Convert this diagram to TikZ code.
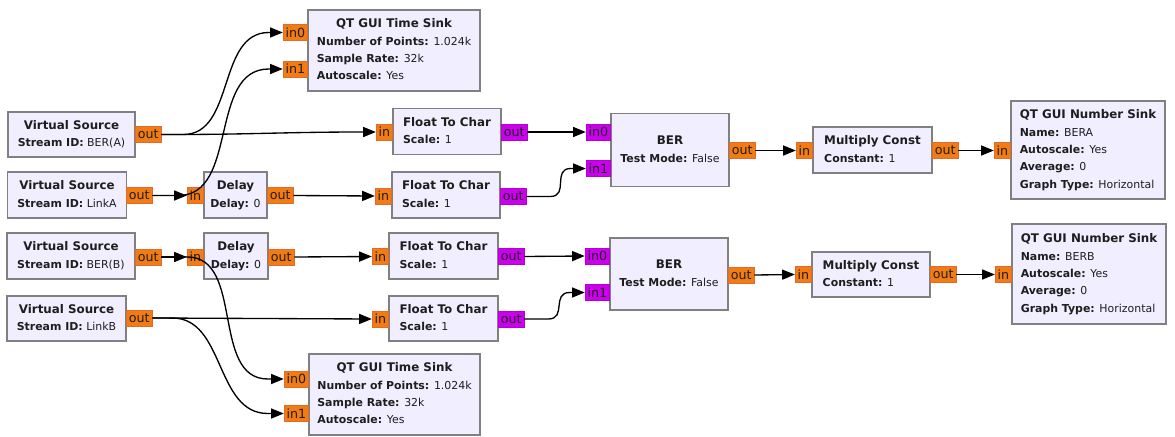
\documentclass[tikz,border=0pt]{standalone}
\usepackage{fontspec}
\setmainfont{DejaVu Sans}
\usetikzlibrary{arrows.meta,calc}
\definecolor{blockfill}{HTML}{F1EEFF}
\definecolor{blockline}{HTML}{808080}
\definecolor{floatport}{HTML}{F27C12}
\definecolor{floatline}{HTML}{E06A30}
\definecolor{byteport}{HTML}{CC00EE}
\definecolor{byteline}{HTML}{B400D0}
\definecolor{textgray}{HTML}{1E1E1E}
\newcommand\ttl[1]{\multicolumn{1}{@{}c@{}}{\fontsize{8.9}{13}\selectfont\bfseries #1}}
\newcommand\prm[2]{\textbf{#1:} #2}

\begin{document}
\begin{tikzpicture}[x=0.75pt, y=-0.75pt, >={Triangle[length=9.5pt,width=7.5pt]},
  block/.style={draw=blockline, fill=blockfill, line width=1.1pt, inner sep=0pt,
    text=textgray, font=\fontsize{8.2}{13}\selectfont},
  port/.style={draw=floatline, fill=floatport, line width=0.6pt, inner xsep=1.8pt,
    inner ysep=0pt, minimum height=12pt, text=textgray, font=\fontsize{9.5}{9.5}\selectfont},
  inport/.style={port, anchor=east},
  outport/.style={port, anchor=west},
  byte/.style={draw=byteline, fill=byteport},
  wire/.style={->, line width=1pt, black}]
\useasboundingbox (0,0) rectangle (1175,436);

% link A: blocks
\node[block, minimum width=129pt, minimum height=60.75pt] (ts1) at (394,50.5)
  {\begin{tabular}{@{}l@{}}\ttl{QT GUI Time Sink}\\\prm{Number of Points}{1.024k}\\\prm{Sample Rate}{32k}\\\prm{Autoscale}{Yes}\end{tabular}};
\node[block, minimum width=95.25pt, minimum height=33.75pt] (vsa) at (71.5,134.5)
  {\begin{tabular}{@{}l@{}}\ttl{Virtual Source}\\\prm{Stream ID}{BER(A)}\end{tabular}};
\node[block, minimum width=89.25pt, minimum height=34.5pt] (vsla) at (67,195)
  {\begin{tabular}{@{}l@{}}\ttl{Virtual Source}\\\prm{Stream ID}{LinkA}\end{tabular}};
\node[block, minimum width=47.25pt, minimum height=34.5pt] (dla) at (235.5,195)
  {\begin{tabular}{@{}l@{}}\ttl{Delay}\\\prm{Delay}{0}\end{tabular}};
\node[block, minimum width=81pt, minimum height=34.5pt] (fta1) at (447,131.5)
  {\begin{tabular}{@{}l@{}}\ttl{Float To Char}\\\prm{Scale}{1}\end{tabular}};
\node[block, minimum width=81pt, minimum height=34.5pt] (fta2) at (446,195)
  {\begin{tabular}{@{}l@{}}\ttl{Float To Char}\\\prm{Scale}{1}\end{tabular}};
\node[block, minimum width=88.5pt, minimum height=54.75pt] (bera) at (670,150)
  {\begin{tabular}{@{}l@{}}\ttl{BER}\\\prm{Test Mode}{False}\end{tabular}};
\node[block, minimum width=89.25pt, minimum height=34.5pt] (mca) at (872.5,150)
  {\begin{tabular}{@{}l@{}}\ttl{Multiply Const}\\\prm{Constant}{1}\end{tabular}};
\node[block, minimum width=115.5pt, minimum height=73.5pt] (nsa) at (1088,150)
  {\begin{tabular}{@{}l@{}}\ttl{QT GUI Number Sink}\\\prm{Name}{BERA}\\\prm{Autoscale}{Yes}\\\prm{Average}{0}\\\prm{Graph Type}{Horizontal}\end{tabular}};

% link B: blocks
\node[block, minimum width=96pt, minimum height=34.5pt] (vsb) at (71,256)
  {\begin{tabular}{@{}l@{}}\ttl{Virtual Source}\\\prm{Stream ID}{BER(B)}\end{tabular}};
\node[block, minimum width=89.25pt, minimum height=33.75pt] (vslb) at (66.5,318.5)
  {\begin{tabular}{@{}l@{}}\ttl{Virtual Source}\\\prm{Stream ID}{LinkB}\end{tabular}};
\node[block, minimum width=48pt, minimum height=34.5pt] (dlb) at (236,256)
  {\begin{tabular}{@{}l@{}}\ttl{Delay}\\\prm{Delay}{0}\end{tabular}};
\node[block, minimum width=81.75pt, minimum height=34.5pt] (ftb1) at (443.5,256)
  {\begin{tabular}{@{}l@{}}\ttl{Float To Char}\\\prm{Scale}{1}\end{tabular}};
\node[block, minimum width=81.75pt, minimum height=33.75pt] (ftb2) at (443.5,318.5)
  {\begin{tabular}{@{}l@{}}\ttl{Float To Char}\\\prm{Scale}{1}\end{tabular}};
\node[block, minimum width=88.5pt, minimum height=54pt] (berb) at (669,274)
  {\begin{tabular}{@{}l@{}}\ttl{BER}\\\prm{Test Mode}{False}\end{tabular}};
\node[block, minimum width=88.5pt, minimum height=33.75pt] (mcb) at (871,274.5)
  {\begin{tabular}{@{}l@{}}\ttl{Multiply Const}\\\prm{Constant}{1}\end{tabular}};
\node[block, minimum width=115.5pt, minimum height=75pt] (nsb) at (1089,274)
  {\begin{tabular}{@{}l@{}}\ttl{QT GUI Number Sink}\\\prm{Name}{BERB}\\\prm{Autoscale}{Yes}\\\prm{Average}{0}\\\prm{Graph Type}{Horizontal}\end{tabular}};
\node[block, minimum width=128.25pt, minimum height=60.75pt] (ts2) at (394.5,394.5)
  {\begin{tabular}{@{}l@{}}\ttl{QT GUI Time Sink}\\\prm{Number of Points}{1.024k}\\\prm{Sample Rate}{32k}\\\prm{Autoscale}{Yes}\end{tabular}};

% ports
\node[inport] (ts1in0) at (308,32.5) {in0};
\node[inport] (ts1in1) at (308,69) {in1};
\node[outport] (vsaout) at (135,134.5) {out};
\node[outport] (vslaout) at (126,195.5) {out};
\node[inport] (dlain) at (204,195.5) {in};
\node[outport] (dlaout) at (267,195.5) {out};
\node[inport] (fta1in) at (393,132) {in};
\node[outport, byte] (fta1out) at (501,132) {out};
\node[inport] (fta2in) at (392,196) {in};
\node[outport, byte] (fta2out) at (500,196.5) {out};
\node[inport, byte] (berain0) at (611,132) {in0};
\node[inport, byte] (berain1) at (611,168.5) {in1};
\node[outport] (beraout) at (729,150.5) {out};
\node[inport] (mcain) at (813,150.5) {in};
\node[outport] (mcaout) at (932,150.5) {out};
\node[inport] (nsain) at (1011,150.5) {in};

\node[outport] (vsbout) at (135,257) {out};
\node[outport] (vslbout) at (126,318) {out};
\node[inport] (dlbin) at (204,257) {in};
\node[outport] (dlbout) at (268,257) {out};
\node[inport] (ftb1in) at (389,256.5) {in};
\node[outport, byte] (ftb1out) at (498,256.5) {out};
\node[inport] (ftb2in) at (389,319) {in};
\node[outport, byte] (ftb2out) at (498,319) {out};
\node[inport, byte] (berbin0) at (610,256) {in0};
\node[inport, byte] (berbin1) at (610,292.5) {in1};
\node[outport] (berbout) at (728,275) {out};
\node[inport] (mcbin) at (812,274.5) {in};
\node[outport] (mcbout) at (930,274.5) {out};
\node[inport] (nsbin) at (1012,274.5) {in};
\node[inport] (ts2in0) at (309,379) {in0};
\node[inport] (ts2in1) at (309,413.5) {in1};

% connections, link A
\draw[wire] (vsaout.east) -- ++(22,0) to[out=0,in=180] ($(ts1in0.west)+(-14,0)$) -- (ts1in0.west);
\draw[wire] (vsaout.east) -- ++(15,0) to[out=0,in=180] ($(fta1in.west)+(-15,0)$) -- (fta1in.west);
\draw[wire] (vslaout.east) -- (dlain.west);
\draw[wire] (vslaout.east) -- ++(26,0) to[out=0,in=180] ($(ts1in1.west)+(-14,0)$) -- (ts1in1.west);
\draw[wire] (dlaout.east) -- (fta2in.west);
\draw[wire] (fta1out.east) -- (berain0.west);
\draw[wire] (fta2out.east) -- ++(24,0) to[out=0,in=180, looseness=1.4] ($(berain1.west)+(-15,0)$) -- (berain1.west);
\draw[wire] (beraout.east) -- (mcain.west);
\draw[wire] (mcaout.east) -- (nsain.west);

% connections, link B
\draw[wire] (vsbout.east) -- (dlbin.west);
\draw[wire] (vsbout.east) -- ++(26,0) to[out=0,in=180] ($(ts2in0.west)+(-16,0)$) -- (ts2in0.west);
\draw[wire] (vslbout.east) -- (ftb2in.west);
\draw[wire] (vslbout.east) -- ++(20,0) to[out=0,in=180] ($(ts2in1.west)+(-16,0)$) -- (ts2in1.west);
\draw[wire] (dlbout.east) -- (ftb1in.west);
\draw[wire] (ftb1out.east) -- (berbin0.west);
\draw[wire] (ftb2out.east) -- ++(24,0) to[out=0,in=180, looseness=1.4] ($(berbin1.west)+(-15,0)$) -- (berbin1.west);
\draw[wire] (berbout.east) -- (mcbin.west);
\draw[wire] (mcbout.east) -- (nsbin.west);
\end{tikzpicture}
\end{document}
